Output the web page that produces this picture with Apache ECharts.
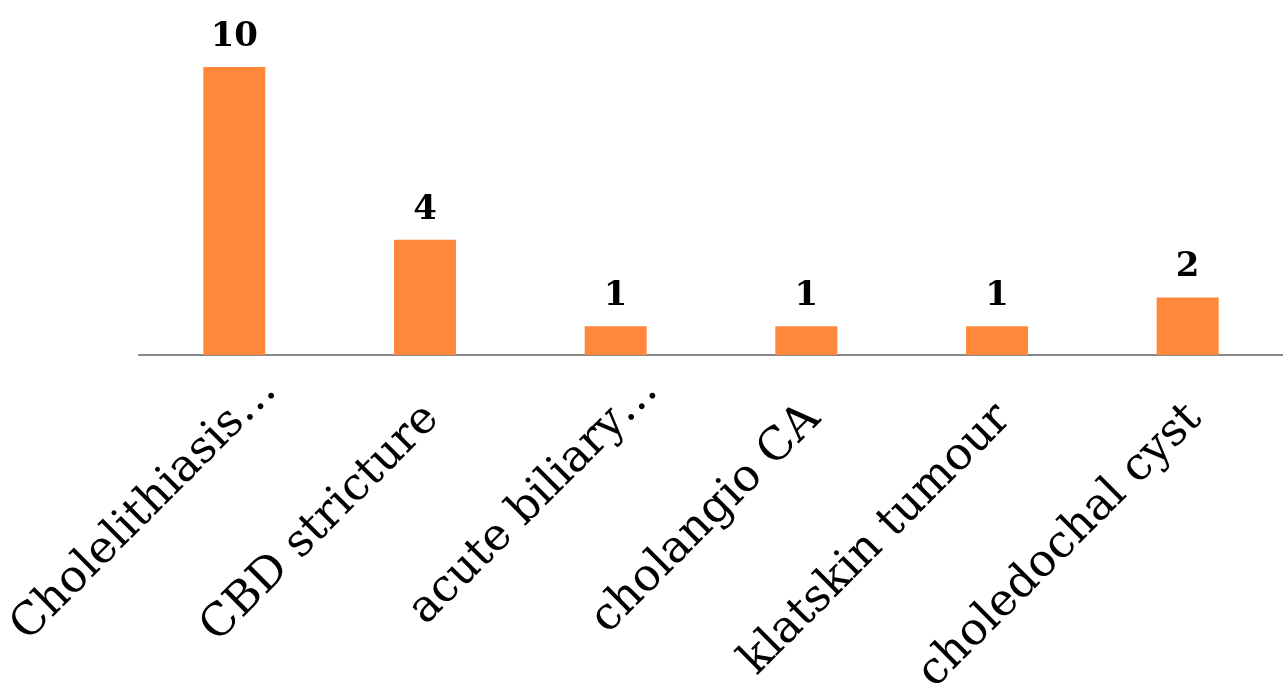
<!DOCTYPE html>
<html>
<head>
<meta charset="utf-8">
<script src="https://cdn.jsdelivr.net/npm/echarts@6/dist/echarts.min.js"></script>
<style>
html, body { margin: 0; padding: 0; background: #fff; }
#main { width: 1283px; height: 683px; }
</style>
</head>
<body>
<div id="main"></div>
<script>
var categories = ['Cholelithiasis…', 'CBD stricture', 'acute biliary…', 'cholangio CA', 'klatskin tumour', 'choledochal cyst'];
var counts = [10, 4, 1, 1, 1, 2];
var truncated = [true, false, true, false, false, false];

var labelFont = 'DejaVu Serif';

var chart = echarts.init(document.getElementById('main'));

chart.setOption({
    animation: false,
    grid: { left: 139, right: 0, top: 67, bottom: 328, outerBoundsMode: 'none' },
    xAxis: {
        type: 'category',
        data: categories.map(function (c, i) {
            // excel lets the "…" of cut labels run past the tick
            return { value: c, textStyle: { padding: [0, truncated[i] ? -50 : -10, 0, 0] } };
        }),
        axisLine: { lineStyle: { color: '#878787', width: 2 } },
        axisTick: { show: false },
        axisLabel: {
            interval: 0,
            rotate: 45,
            margin: 64,
            color: '#000',
            fontFamily: labelFont,
            fontSize: 45
        }
    },
    yAxis: {
        type: 'value',
        min: 0,
        max: 10,
        show: false,
        splitLine: { show: false }
    },
    series: [{
        type: 'bar',
        data: counts,
        barWidth: 62,
        itemStyle: { color: '#FF883A' },
        label: {
            show: true,
            position: 'top',
            distance: 13,
            color: '#000',
            fontFamily: labelFont,
            fontWeight: 'bold',
            fontSize: 34
        }
    }]
});
</script>
</body>
</html>
